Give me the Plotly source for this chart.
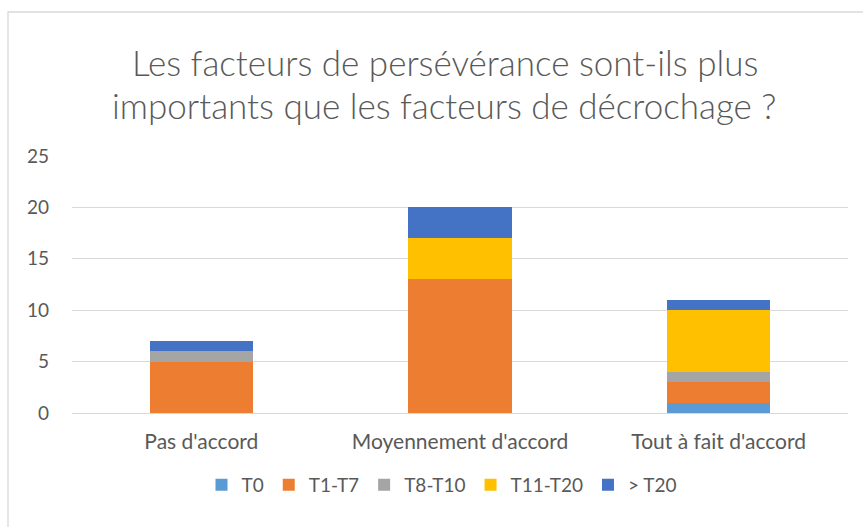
import plotly.graph_objects as go

# Response categories and counts per seniority group
categories = ["Pas d'accord", "Moyennement d'accord", "Tout à fait d'accord"]
t0 = [0, 0, 1]
t1_t7 = [5, 13, 2]
t8_t10 = [1, 0, 1]
t11_t20 = [0, 4, 6]
over_t20 = [1, 3, 1]

series_names = ["T0", "T1-T7", "T8-T10", "T11-T20", "> T20"]
series_values = [t0, t1_t7, t8_t10, t11_t20, over_t20]
series_colors = ["#5B9BD5", "#ED7D31", "#A5A5A5", "#FFC000", "#4472C4"]

title_lines = ["Les facteurs de persévérance sont-ils plus",
               "importants que les facteurs de décrochage ?"]

W, H = 863, 527
L, R, T, B = 72, 15, 156, 114
plot_w = W - L - R
plot_h = H - T - B


def px_to_paper_x(px):
    return (px - L) / plot_w


def px_to_paper_y(py):
    return (H - B - py) / plot_h


fig = go.Figure()
for name, vals, color in zip(series_names, series_values, series_colors):
    fig.add_trace(go.Bar(
        name=name, x=categories, y=vals,
        marker=dict(color=color, line=dict(width=0)),
    ))

font_family = "Lato, 'Open Sans', sans-serif"
text_color = "#595959"

annotations = []
for line, py in zip(title_lines, [62, 105]):
    annotations.append(dict(
        text=line, xref="paper", yref="paper",
        x=px_to_paper_x(W / 2 + 13), y=px_to_paper_y(py),
        xanchor="center", yanchor="middle", showarrow=False,
        font=dict(family=font_family, size=35, color=text_color, weight=300),
    ))

fig.update_layout(
    width=W, height=H,
    margin=dict(l=L, r=R, t=T, b=B),
    paper_bgcolor="white", plot_bgcolor="white",
    barmode="stack", bargap=0.6,
    font=dict(family=font_family, color=text_color),
    annotations=annotations,
    showlegend=True,
    legend=dict(
        orientation="h", x=px_to_paper_x(442), xanchor="center",
        y=px_to_paper_y(485), yanchor="middle",
        font=dict(size=19, color=text_color),
        traceorder="normal", itemwidth=30,
    ),
    shapes=[dict(
        type="rect", xref="paper", yref="paper",
        x0=px_to_paper_x(8), x1=px_to_paper_x(880),
        y0=px_to_paper_y(560), y1=px_to_paper_y(12),
        line=dict(color="#D9D9D9", width=1.3), fillcolor="rgba(0,0,0,0)",
        layer="below",
    )],
)

fig.update_yaxes(
    range=[0, 25], dtick=5, showgrid=True, gridcolor="#D9D9D9", gridwidth=1.3,
    zeroline=True, zerolinecolor="#D9D9D9", zerolinewidth=1.3,
    showline=False, ticks="", ticklabelstandoff=22,
    tickfont=dict(size=19, color=text_color),
)
fig.update_xaxes(
    showgrid=False, showline=False, ticks="", ticklabelstandoff=14,
    tickfont=dict(size=21, color=text_color),
)

fig.write_html("out.html")
